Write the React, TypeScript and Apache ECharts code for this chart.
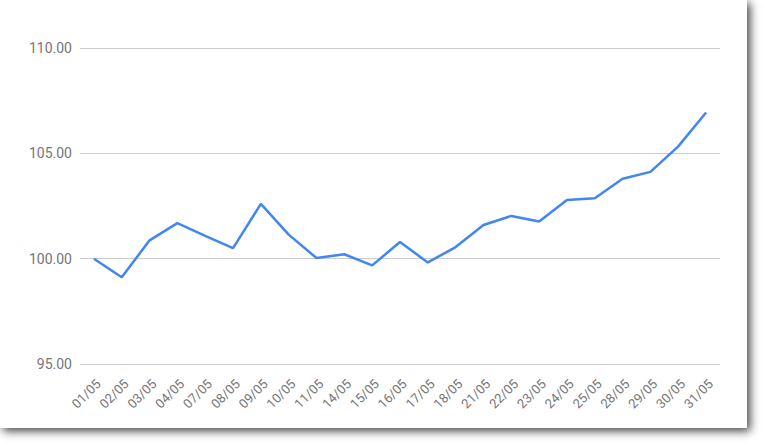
import React, { useEffect, useRef } from "react";
import * as echarts from "echarts";

const categories = [
  "01/05", "02/05", "03/05", "04/05", "07/05", "08/05", "09/05", "10/05",
  "11/05", "14/05", "15/05", "16/05", "17/05", "18/05", "21/05", "22/05",
  "23/05", "24/05", "25/05", "28/05", "29/05", "30/05", "31/05",
];

const values = [
  100.0, 99.12, 100.87, 101.69, 101.08, 100.5, 102.6, 101.14,
  100.03, 100.21, 99.68, 100.79, 99.82, 100.55, 101.6, 102.03,
  101.76, 102.78, 102.87, 103.79, 104.12, 105.33, 106.94,
];

const yMin = 95;
const yMax = 110;
const yStep = 5;

export default function App() {
  const ref = useRef<HTMLDivElement>(null);

  useEffect(() => {
    if (!ref.current) return;
    const chart = echarts.init(ref.current, null, { renderer: "svg" });
    chart.setOption({
      animation: false,
      backgroundColor: "#ffffff",
      grid: { left: 80, right: 27, top: 48, bottom: 64 },
      xAxis: {
        type: "category",
        data: categories,
        boundaryGap: true,
        axisLine: { show: false },
        axisTick: { show: false },
        axisLabel: {
          rotate: 45,
          margin: 13,
          interval: 0,
          verticalAlign: "top",
          color: "#757575",
          fontFamily: "Roboto",
          fontSize: 13,
        },
      },
      yAxis: {
        type: "value",
        min: yMin,
        max: yMax,
        interval: yStep,
        axisLine: { show: false },
        axisTick: { show: false },
        axisLabel: {
          margin: 8,
          color: "#757575",
          fontFamily: "Roboto",
          fontSize: 14,
          formatter: (v: number) => v.toFixed(2),
        },
        splitLine: { lineStyle: { color: "#cccccc", width: 1 } },
      },
      series: [
        {
          type: "line",
          data: values,
          showSymbol: false,
          symbol: "none",
          lineStyle: { color: "#4285f4", width: 2.5 },
          itemStyle: { color: "#4285f4" },
        },
      ],
    });
    return () => chart.dispose();
  }, []);

  return (
    <div
      style={{
        position: "fixed",
        left: 0,
        top: 0,
        width: 763,
        height: 444,
        background: "#ffffff",
        overflow: "hidden",
      }}
    >
      <div
        style={{
          position: "absolute",
          left: 0,
          top: 0,
          width: 747,
          height: 428,
          background: "#ffffff",
          boxShadow: "3px 3px 9px rgba(0,0,0,0.75)",
        }}
      >
        <div ref={ref} style={{ width: 747, height: 428 }} />
      </div>
    </div>
  );
}
